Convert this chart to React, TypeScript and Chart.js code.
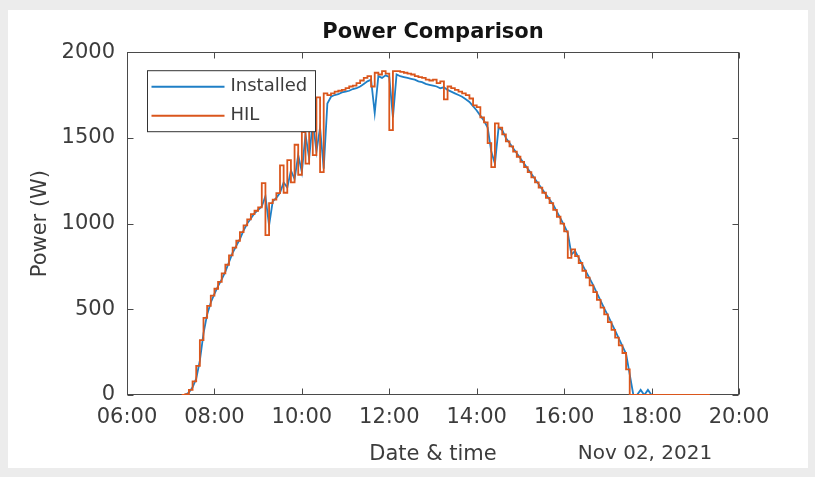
import React, { useEffect, useRef } from "react";
import { Chart, registerables } from "chart.js";

Chart.register(...registerables);

// ---- data ----
const times = [
  "07:15", "07:20", "07:25", "07:30", "07:35", "07:40", "07:45", "07:50", "07:55",
  "08:00", "08:05", "08:10", "08:15", "08:20", "08:25", "08:30", "08:35", "08:40", "08:45", "08:50", "08:55",
  "09:00", "09:05", "09:10", "09:15", "09:20", "09:25", "09:30", "09:35", "09:40", "09:45", "09:50", "09:55",
  "10:00", "10:05", "10:10", "10:15", "10:20", "10:25", "10:30", "10:35", "10:40", "10:45", "10:50", "10:55",
  "11:00", "11:05", "11:10", "11:15", "11:20", "11:25", "11:30", "11:35", "11:40", "11:45", "11:50", "11:55",
  "12:00", "12:05", "12:10", "12:15", "12:20", "12:25", "12:30", "12:35", "12:40", "12:45", "12:50", "12:55",
  "13:00", "13:05", "13:10", "13:15", "13:20", "13:25", "13:30", "13:35", "13:40", "13:45", "13:50", "13:55",
  "14:00", "14:05", "14:10", "14:15", "14:20", "14:25", "14:30", "14:35", "14:40", "14:45", "14:50", "14:55",
  "15:00", "15:05", "15:10", "15:15", "15:20", "15:25", "15:30", "15:35", "15:40", "15:45", "15:50", "15:55",
  "16:00", "16:05", "16:10", "16:15", "16:20", "16:25", "16:30", "16:35", "16:40", "16:45", "16:50", "16:55",
  "17:00", "17:05", "17:10", "17:15", "17:20", "17:25", "17:30", "17:35", "17:40", "17:45", "17:50", "17:55",
  "18:00", "18:30", "19:00", "19:20",
];

const installedW = [
  null, 0, 15, 45, 95, 200, 360, 470, 540,
  590, 635, 675, 720, 775, 830, 870, 910, 960, 1000, 1030, 1060,
  1080, 1100, 1160, 990, 1130, 1150, 1180, 1240, 1210, 1310, 1260, 1400,
  1300, 1520, 1380, 1600, 1420, 1560, 1320, 1700, 1740, 1750, 1755, 1765,
  1770, 1775, 1785, 1790, 1800, 1815, 1830, 1840, 1645, 1860, 1850, 1865,
  1855, 1620, 1870, 1860, 1855, 1850, 1845, 1840, 1830, 1825, 1815, 1810,
  1805, 1800, 1790, 1795, 1780, 1770, 1760, 1750, 1740, 1725, 1710, 1685,
  1660, 1630, 1600, 1560, 1420, 1350, 1560, 1545, 1500, 1470, 1440, 1410,
  1380, 1350, 1320, 1290, 1260, 1230, 1200, 1170, 1140, 1110, 1070, 1030,
  990, 945, 820, 840, 800, 760, 720, 680, 640, 595, 550, 505,
  465, 420, 375, 330, 285, 240, 120, 0, 0, 30, 0, 30,
  0, null, null, null,
];

const hilW = [
  0, 0, 5, 30, 80, 170, 320, 450, 520,
  580, 620, 660, 710, 760, 815, 860, 900, 950, 990, 1025, 1055,
  1075, 1095, 1236, 933, 1120, 1140, 1178, 1340, 1180, 1370, 1240, 1460,
  1285, 1534, 1350, 1620, 1400, 1737, 1300, 1760, 1750, 1760, 1770, 1775,
  1780, 1790, 1800, 1805, 1820, 1835, 1850, 1860, 1800, 1880, 1870, 1890,
  1875, 1545, 1890, 1890, 1885, 1880, 1875, 1870, 1860, 1855, 1850, 1840,
  1835, 1840, 1820, 1830, 1725, 1800, 1790, 1780, 1770, 1760, 1750, 1730,
  1690, 1680, 1620, 1590, 1470, 1330, 1585, 1560, 1520, 1480, 1450, 1420,
  1390, 1360, 1330, 1300, 1270, 1240, 1210, 1180, 1150, 1120, 1080, 1040,
  1000, 955, 800, 850, 810, 770, 725, 685, 640, 600, 555, 510,
  470, 425, 380, 335, 290, 245, 150, 0, 0, 0, 0, 0,
  0, 0, 0, 0,
];

const seriesNames = ["Installed", "HIL"];
const xTickHours = [6, 8, 10, 12, 14, 16, 18, 20];
const yTickValues = [0, 500, 1000, 1500, 2000];
const chartTitle = "Power Comparison";
const xAxisTitle = "Date & time";
const yAxisTitle = "Power (W)";
const dateLabel = "Nov 02, 2021";

// ---- style ----
const BLUE = "#1f7fc6";
const ORANGE = "#da561c";
const TEXT = "#3c3c3c";
const AXIS = "#4a4a4a";
const FONT = "'DejaVu Sans', 'Liberation Sans', sans-serif";

function toHours(s: string): number {
  const [h, m] = s.split(":").map(Number);
  return h + m / 60;
}

function toPoints(vals: (number | null)[]) {
  const out: { x: number; y: number }[] = [];
  times.forEach((t, i) => {
    const v = vals[i];
    if (v !== null && v !== undefined) out.push({ x: toHours(t), y: v });
  });
  return out;
}

function pad2(n: number) {
  return (n < 10 ? "0" : "") + n;
}

const framePlugin = {
  id: "matlabFrame",
  beforeDatasetsDraw(chart: any) {
    const { ctx, chartArea: a, scales } = chart;
    const xs = scales.x;
    const ys = scales.y;
    ctx.save();
    ctx.strokeStyle = AXIS;
    ctx.lineWidth = 1;
    const L = Math.round(a.left) + 0.5;
    const R = Math.round(a.right) - 0.5;
    const T = Math.round(a.top) + 0.5;
    const B = Math.round(a.bottom) - 0.5;
    ctx.strokeRect(L, T, R - L, B - T);
    const tl = 6;
    ctx.beginPath();
    xTickHours.forEach((h) => {
      const px = Math.round(xs.getPixelForValue(h)) + 0.5;
      ctx.moveTo(px, B);
      ctx.lineTo(px, B - tl);
      ctx.moveTo(px, T);
      ctx.lineTo(px, T + tl);
    });
    yTickValues.forEach((v) => {
      const py = Math.round(ys.getPixelForValue(v)) + 0.5;
      ctx.moveTo(L, py);
      ctx.lineTo(L + tl, py);
      ctx.moveTo(R, py);
      ctx.lineTo(R - tl, py);
    });
    ctx.stroke();
    ctx.restore();
  },
  afterDatasetsDraw(chart: any) {
    const { ctx, chartArea: a } = chart;
    ctx.save();
    // legend box
    const bx = a.left + 20.5;
    const by = a.top + 18.5;
    const bw = 168;
    const bh = 61;
    ctx.fillStyle = "#ffffff";
    ctx.fillRect(bx, by, bw, bh);
    ctx.strokeStyle = "#333333";
    ctx.lineWidth = 1;
    ctx.strokeRect(bx, by, bw, bh);
    const colors = [BLUE, ORANGE];
    ctx.font = `18px ${FONT}`;
    ctx.textBaseline = "middle";
    ctx.textAlign = "left";
    seriesNames.forEach((name, i) => {
      const ly = by + 16 + i * 29;
      ctx.strokeStyle = colors[i];
      ctx.lineWidth = 2;
      ctx.beginPath();
      ctx.moveTo(bx + 4, ly);
      ctx.lineTo(bx + 77, ly);
      ctx.stroke();
      ctx.fillStyle = TEXT;
      ctx.fillText(name, bx + 83, ly);
    });
    // secondary date label
    ctx.font = `20px ${FONT}`;
    ctx.fillStyle = TEXT;
    ctx.textAlign = "center";
    ctx.textBaseline = "middle";
    ctx.fillText(dateLabel, a.left + 518, chart.height - 14);
    ctx.restore();
  },
};

export default function App() {
  const ref = useRef<HTMLCanvasElement | null>(null);

  useEffect(() => {
    if (!ref.current) return;
    const chart = new Chart(ref.current, {
      type: "line",
      data: {
        datasets: [
          {
            label: seriesNames[1],
            data: toPoints(hilW),
            borderColor: ORANGE,
            backgroundColor: ORANGE,
            borderWidth: 1.8,
            pointRadius: 0,
            stepped: "after",
            order: 0,
          },
          {
            label: seriesNames[0],
            data: toPoints(installedW),
            borderColor: BLUE,
            backgroundColor: BLUE,
            borderWidth: 1.8,
            pointRadius: 0,
            tension: 0,
            order: 1,
          },
        ],
      },
      options: {
        animation: false,
        responsive: false,
        devicePixelRatio: 1,
        parsing: false as any,
        layout: { padding: { left: 0, right: 69, top: 0, bottom: 0 } },
        plugins: {
          legend: { display: false },
          tooltip: { enabled: false },
          title: {
            display: true,
            text: chartTitle,
            fullSize: false,
            color: "#141414",
            font: { family: FONT, size: 21, weight: "bold" },
            padding: { top: 10, bottom: 7 },
          },
        },
        scales: {
          x: {
            type: "linear",
            min: 6,
            max: 20,
            afterBuildTicks: (s: any) => {
              s.ticks = xTickHours.map((v) => ({ value: v }));
            },
            afterFit: (s: any) => {
              s.height = 73;
            },
            ticks: {
              color: TEXT,
              font: { family: FONT, size: 21 },
              padding: 10,
              maxRotation: 0,
              autoSkip: false,
              callback: (v: any) => pad2(Number(v)) + ":00",
            },
            grid: { display: false, drawTicks: false },
            border: { display: false },
            title: {
              display: true,
              text: xAxisTitle,
              color: TEXT,
              font: { family: FONT, size: 21 },
              padding: { top: 0, bottom: 1 },
            },
          },
          y: {
            type: "linear",
            min: 0,
            max: 2000,
            afterBuildTicks: (s: any) => {
              s.ticks = yTickValues.map((v) => ({ value: v }));
            },
            afterFit: (s: any) => {
              s.width = 119;
            },
            ticks: {
              color: TEXT,
              font: { family: FONT, size: 21 },
              padding: 12,
              autoSkip: false,
              callback: (v: any) => String(v),
            },
            grid: { display: false, drawTicks: false },
            border: { display: false },
            title: {
              display: true,
              text: yAxisTitle,
              color: TEXT,
              font: { family: FONT, size: 21 },
              padding: { top: 20, bottom: 0 },
            },
          },
        },
      },
      plugins: [framePlugin],
    });
    return () => chart.destroy();
  }, []);

  return (
    <div
      style={{
        position: "fixed",
        left: 0,
        top: 0,
        width: 815,
        height: 477,
        background: "#ececec",
      }}
    >
      <div
        style={{
          position: "absolute",
          left: 8,
          top: 10,
          width: 800,
          height: 458,
          background: "#ffffff",
        }}
      >
        <canvas ref={ref} width={800} height={458} style={{ width: 800, height: 458, display: "block" }} />
      </div>
    </div>
  );
}
